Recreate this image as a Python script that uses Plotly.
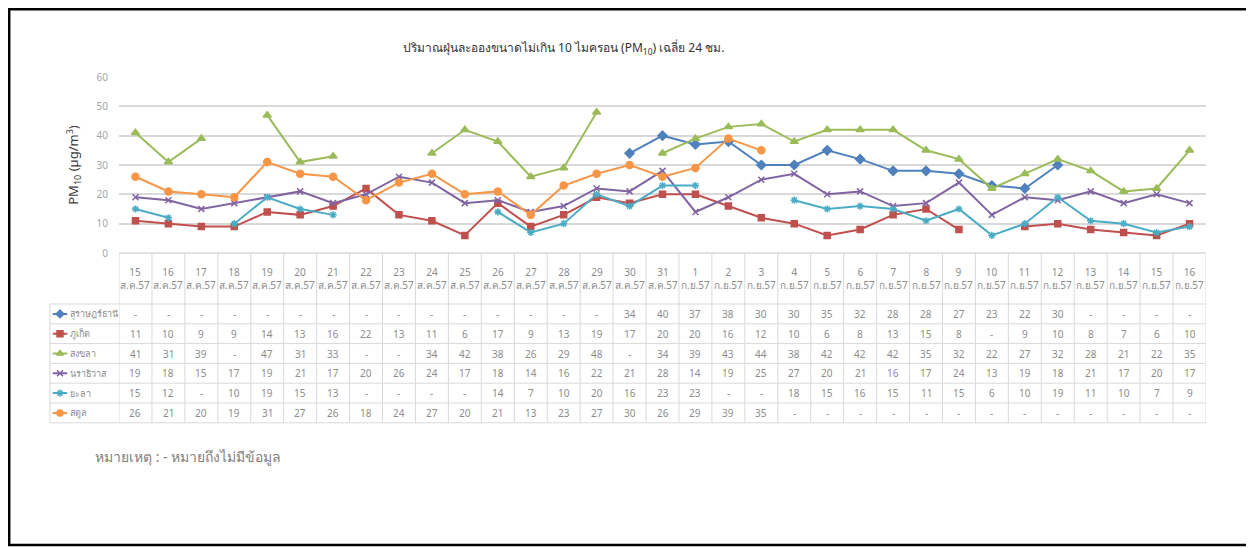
import plotly.graph_objects as go

# browser body margin (8px) offsets the figure, so the figure is sized and
# coordinates are shifted accordingly
OFF = 8
W, H = 1254 - OFF, 548 - OFF

days = [str(d) for d in range(15, 32)] + [str(d) for d in range(1, 17)]
months = ["ส.ค.57"] * 17 + ["ก.ย.57"] * 16

series_names = ["สุราษฎร์ธานี", "ภูเก็ต", "สงขลา", "นราธิวาส", "ยะลา", "สตูล"]
N = None
surat = [N]*15 + [34, 40, 37, 38, 30, 30, 35, 32, 28, 28, 27, 23, 22, 30, N, N, N, N]
phuket = [11, 10, 9, 9, 14, 13, 16, 22, 13, 11, 6, 17, 9, 13, 19, 17, 20, 20, 16, 12, 10, 6, 8, 13, 15, 8, N, 9, 10, 8, 7, 6, 10]
songkhla = [41, 31, 39, N, 47, 31, 33, N, N, 34, 42, 38, 26, 29, 48, N, 34, 39, 43, 44, 38, 42, 42, 42, 35, 32, 22, 27, 32, 28, 21, 22, 35]
narathiwat = [19, 18, 15, 17, 19, 21, 17, 20, 26, 24, 17, 18, 14, 16, 22, 21, 28, 14, 19, 25, 27, 20, 21, 16, 17, 24, 13, 19, 18, 21, 17, 20, 17]
yala = [15, 12, N, 10, 19, 15, 13, N, N, N, N, 14, 7, 10, 20, 16, 23, 23, N, N, 18, 15, 16, 15, 11, 15, 6, 10, 19, 11, 10, 7, 9]
satun = [26, 21, 20, 19, 31, 27, 26, 18, 24, 27, 20, 21, 13, 23, 27, 30, 26, 29, 39, 35] + [N]*13
series_values = [surat, phuket, songkhla, narathiwat, yala, satun]

colors = ["#4F81BD", "#C0504D", "#9BBB59", "#8064A2", "#4BACC6", "#F79646"]
symbols = ["diamond", "square", "triangle-up", "x-thin-open", "asterisk-open", "circle"]
msizes = [7, 6, 7, 6, 6, 7]

FONT = "Noto Sans, Tahoma, sans-serif"
GRID = "#d9d9d9"
TXT = "#8c8c8c"

def px(x):
    return (x - OFF) / W

def py(y):
    return 1 - (y - OFF) / H

plot_l, plot_r, plot_t, plot_b = 119, 1206, 77, 253
header_b = 304
row_h = 19.8
leg_l = 50
nrows = len(series_names)
table_bottom = header_b + row_h * nrows

fig = go.Figure()
xs = list(range(len(days)))
for name, vals, c, s, ms in zip(series_names, series_values, colors, symbols, msizes):
    fig.add_trace(go.Scatter(
        x=xs, y=vals, name=name, mode="lines+markers",
        line=dict(color=c, width=2),
        marker=dict(symbol=s, size=ms, color=c, line=dict(color=c, width=1.5)),
        connectgaps=False, showlegend=False, cliponaxis=False,
    ))

n = len(days)
fig.update_layout(
    width=W, height=H,
    margin=dict(l=0, r=0, t=0, b=0),
    paper_bgcolor="white", plot_bgcolor="rgba(0,0,0,0)",
    font=dict(family=FONT, color=TXT, size=10),
    xaxis=dict(domain=[px(plot_l), px(plot_r)], range=[-0.5, n - 0.5],
               showticklabels=False, showgrid=False, zeroline=False, ticks=""),
    yaxis=dict(domain=[py(plot_b), py(plot_t)], range=[0, 60], dtick=10,
               gridcolor=GRID, gridwidth=1.5, zeroline=False, showline=False,
               tickfont=dict(size=10, color="#a6a6a6"), ticks="", ticklen=0,
               ticklabelstandoff=10, automargin=False,
               title=dict(text="PM<sub>10</sub> (µg/m<sup>3</sup>)",
                          font=dict(size=13, color="#404040"), standoff=14)),
    xaxis2=dict(domain=[px(leg_l), px(plot_l)], range=[0, 1], visible=False, anchor="y2"),
    yaxis2=dict(domain=[py(table_bottom), py(header_b)], range=[nrows, 0],
                visible=False, anchor="x2"),
)

shapes = []
annotations = []

# outer border
shapes.append(dict(type="rect", xref="paper", yref="paper",
                   x0=px(9.2), x1=px(1251), y0=py(545), y1=py(9.2),
                   line=dict(color="black", width=2.5)))

# vertical table lines
for k in range(n + 1):
    shapes.append(dict(type="line", xref="x", yref="paper",
                       x0=k - 0.5, x1=k - 0.5, y0=py(table_bottom), y1=py(plot_b),
                       line=dict(color=GRID, width=1)))
shapes.append(dict(type="line", xref="paper", yref="paper",
                   x0=px(leg_l), x1=px(leg_l), y0=py(table_bottom), y1=py(header_b),
                   line=dict(color=GRID, width=1)))
# horizontal table lines
shapes.append(dict(type="line", xref="paper", yref="paper",
                   x0=px(plot_l), x1=px(plot_r), y0=py(plot_b), y1=py(plot_b),
                   line=dict(color=GRID, width=1.5)))
for r in range(nrows + 1):
    yy = header_b + r * row_h
    shapes.append(dict(type="line", xref="paper", yref="paper",
                       x0=px(leg_l), x1=px(plot_r), y0=py(yy), y1=py(yy),
                       line=dict(color=GRID, width=1)))

# header text
for i, (d, m) in enumerate(zip(days, months)):
    annotations.append(dict(x=i, y=py(278), xref="x", yref="paper",
                            xanchor="center", yanchor="middle",
                            text=d + "<br>" + m, showarrow=False,
                            font=dict(size=10, color=TXT), align="center"))

# cell text and legend keys
for r, (name, vals, c, s) in enumerate(zip(series_names, series_values, colors, symbols)):
    yc = header_b + (r + 0.5) * row_h
    for i, v in enumerate(vals):
        annotations.append(dict(x=i, y=py(yc), xref="x", yref="paper",
                                xanchor="center", yanchor="middle",
                                text="-" if v is None else str(v), showarrow=False,
                                font=dict(size=10, color=TXT)))
    annotations.append(dict(x=px(68), y=py(yc), xref="paper", yref="paper",
                            xanchor="left", yanchor="middle", text=name, showarrow=False,
                            font=dict(size=9, color=TXT)))
    fig.add_trace(go.Scatter(x=[0.04, 0.25], y=[r + 0.5, r + 0.5], xaxis="x2", yaxis="y2",
                             mode="lines", line=dict(color=c, width=2),
                             showlegend=False, hoverinfo="skip"))
    fig.add_trace(go.Scatter(x=[0.145], y=[r + 0.5], xaxis="x2", yaxis="y2",
                             mode="markers", marker=dict(symbol=s, size=6, color=c,
                                                         line=dict(color=c, width=1.5)),
                             showlegend=False, hoverinfo="skip"))

# title
annotations.append(dict(x=px(563), y=py(48), xref="paper", yref="paper",
                        xanchor="center", yanchor="middle",
                        text="ปริมาณฝุ่นละอองขนาดไม่เกิน 10 ไมครอน (PM<sub>10</sub>) เฉลี่ย 24 ชม.",
                        showarrow=False, font=dict(size=12, color="#333333")))
# note
annotations.append(dict(x=px(93), y=py(456), xref="paper", yref="paper",
                        xanchor="left", yanchor="middle",
                        text="หมายเหตุ : - หมายถึงไม่มีข้อมูล", showarrow=False,
                        font=dict(size=14, color="#808080")))

fig.update_layout(shapes=shapes, annotations=annotations)
fig.write_html("out.html")
